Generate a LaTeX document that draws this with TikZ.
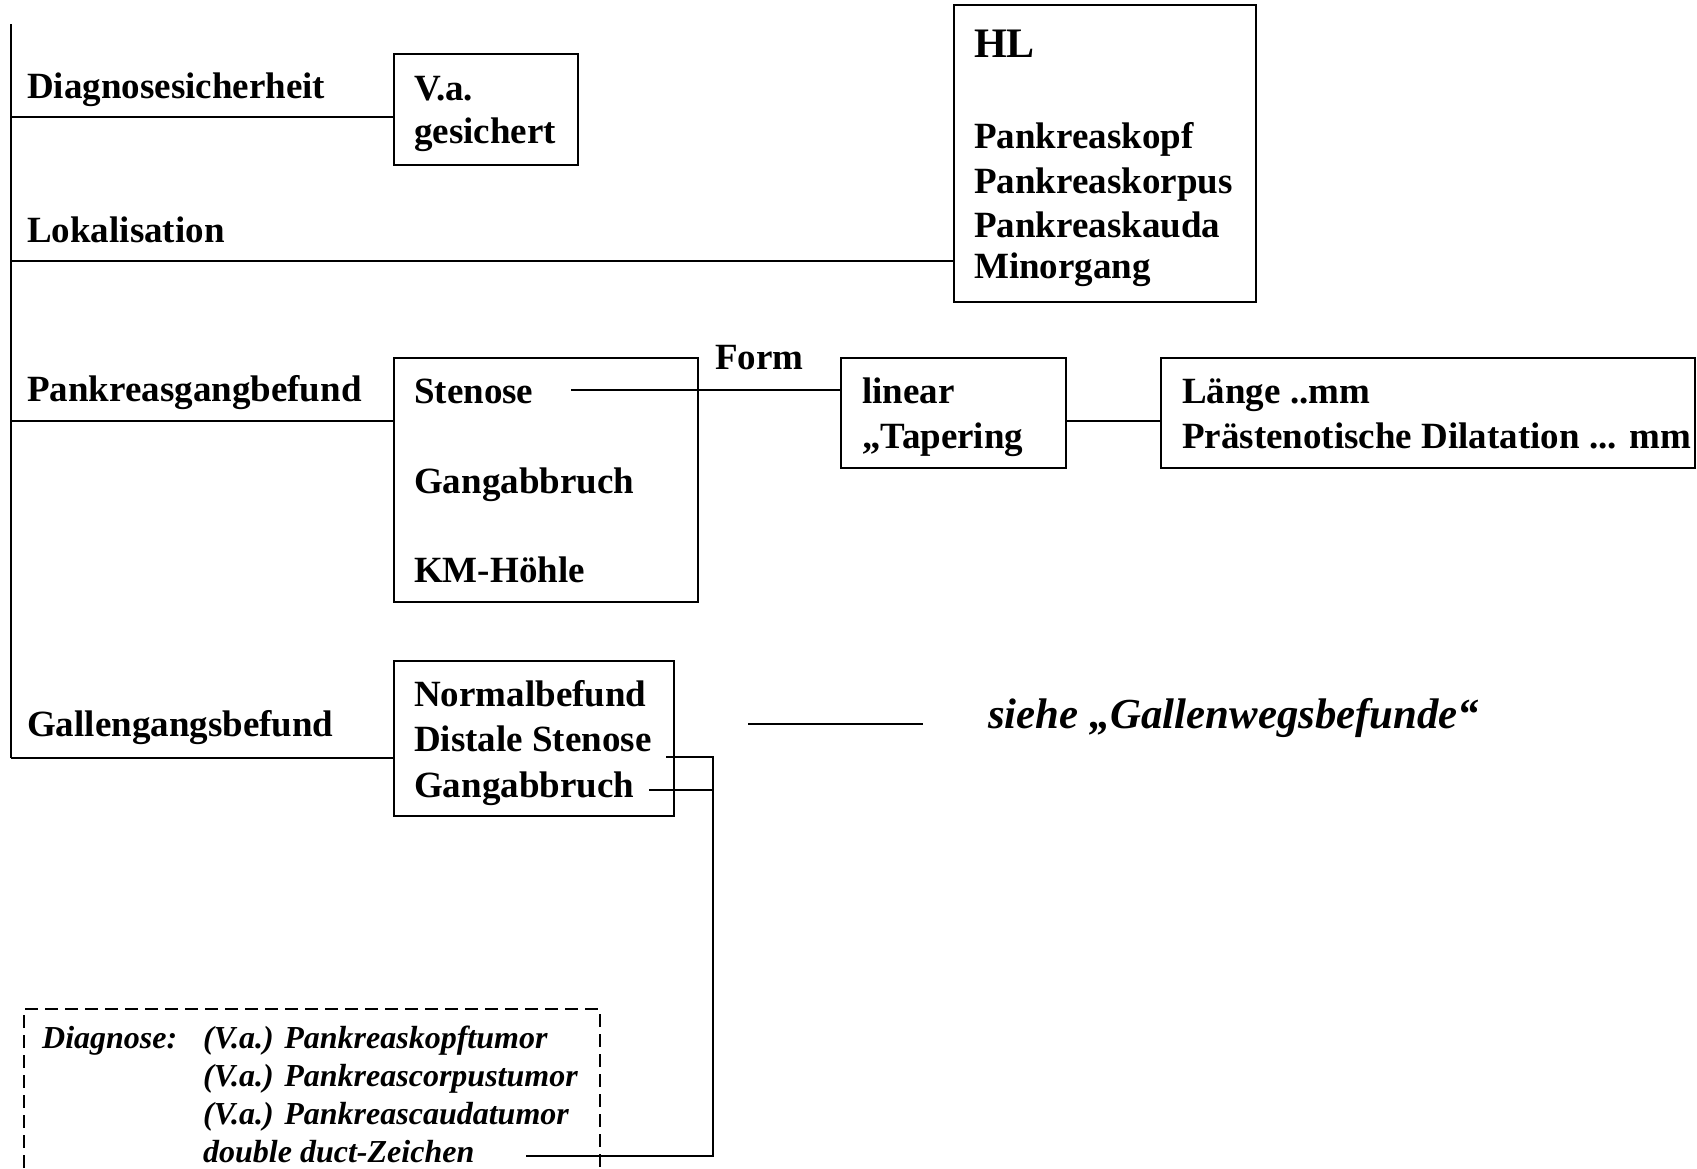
\documentclass[tikz,border=0pt]{standalone}
\usepackage{fontspec}
\setmainfont{Liberation Serif}
\usetikzlibrary{fit}
\begin{document}
\begin{tikzpicture}[x=0.5pt,y=-0.5pt,
  line width=1.2pt,
  lbl/.style={anchor=base west,inner sep=0pt,font=\fontsize{18.5}{22}\selectfont\bfseries},
  big/.style={anchor=base west,inner sep=0pt,font=\fontsize{21}{25}\selectfont\bfseries},
  ref/.style={anchor=base west,inner sep=0pt,font=\fontsize{21.4}{25}\selectfont\bfseries\itshape},
  dia/.style={anchor=base west,inner sep=0pt,font=\fontsize{16}{19}\selectfont\bfseries\itshape},
  frame/.style={draw,inner sep=0pt,line width=1.2pt},
  dashbox/.style={line width=1.1pt,dash pattern=on 6.5pt off 3.5pt},
  ]
\useasboundingbox (0,0) rectangle (1697,1168);

% frames
\node[frame,fit={(394,54)(578,165)}] (fva) {};
\node[frame,fit={(954,5)(1256,302)}] (fhl) {};
\node[frame,fit={(394,358)(698,602)}] (fpg) {};
\node[frame,fit={(841,358)(1066,468)}] (flin) {};
\node[frame,fit={(1161,358)(1695,468)}] (flen) {};
\node[frame,fit={(394,661)(674,816)}] (fgg) {};

% row labels
\node[lbl] (lDiag) at (26,98) {Diagnosesicherheit};
\node[lbl] (lLok) at (26,242) {Lokalisation};
\node[lbl] (lPank) at (26,401) {Pankreasgangbefund};
\node[lbl] (lGall) at (26,736) {Gallengangsbefund};

% Diagnosesicherheit
\node[lbl] (tVa) at (413,100) {V.a.};
\node[lbl] (tGes) at (413,143) {gesichert};

% Lokalisation
\node[big] (tHL) at (973,57) {HL};
\node[lbl] (tKopf) at (973,148) {Pankreaskopf};
\node[lbl] (tKorp) at (973,193) {Pankreaskorpus};
\node[lbl] (tKaud) at (973,237) {Pankreaskauda};
\node[lbl] (tMin) at (973,278) {Minorgang};

% Pankreasgang
\node[lbl] (tSten) at (413,403) {Stenose};
\node[lbl] (tAbb) at (413,493) {Gangabbruch};
\node[lbl] (tKM) at (413,582) {KM-Höhle};
\node[lbl] (tForm) at (714,369) {Form};
\node[lbl] (tLin) at (861,403) {linear};
\node[lbl] (tTap) at (861,448) {„Tapering};
\node[lbl] (tLen) at (1181,403) {Länge ..mm};
\node[lbl] (tDil) at (1181,448) {Prästenotische Dilatation ... mm};

% Gallengang
\node[lbl] (tNorm) at (413,706) {Normalbefund};
\node[lbl] (tDist) at (413,751) {Distale Stenose};
\node[lbl] (tGabb) at (413,797) {Gangabbruch};
\node[ref] (tSiehe) at (987,728) {siehe „Gallenwegsbefunde“};

% diagnosis list
\node[dia] (tDiag) at (41,1048) {Diagnose:};
\node[dia] (tD1) at (202,1048) {(V.a.) Pankreaskopftumor};
\node[dia] (tD2) at (202,1086) {(V.a.) Pankreascorpustumor};
\node[dia] (tD3) at (202,1124) {(V.a.) Pankreascaudatumor};
\node[dia] (tD4) at (202,1162) {double duct-Zeichen};

% spine and branches
\coordinate (spTop) at (11,24);
\coordinate (s1) at (11,117);
\coordinate (s2) at (11,261);
\coordinate (s3) at (11,421);
\coordinate (s4) at (11,758);
\draw (spTop) -- (s4);
\draw (s1) -- (s1 -| fva.west);
\draw (s2) -- (s2 -| fhl.west);
\draw (s3) -- (s3 -| fpg.west);
\draw (s4) -- (s4 -| fgg.west);

% Stenose -> Form -> Länge
\coordinate (c1) at (571,390);
\draw (c1) -- (c1 -| flin.west);
\coordinate (c2) at (1066,421);
\draw (c2) -- (c2 -| flen.west);

% reference line
\coordinate (g1) at (748,724);
\coordinate (g2) at (923,724);
\draw (g1) -- (g2);

% bile duct findings -> double duct sign
\coordinate (d1) at (666,757);
\coordinate (d2) at (649,790);
\coordinate (dv) at (713,757);
\coordinate (dd) at (526,1156);
\draw (d1) -- (dv) -- (dv |- dd) -- (dd);
\draw (d2) -- (d2 -| dv);

% dashed frame around the diagnosis list
\coordinate (b1) at (24,1168);
\coordinate (b2) at (600,1168);
\draw[dashbox] (b1) -- (24,1009) -- (600,1009) -- (b2);
\end{tikzpicture}
\end{document}
